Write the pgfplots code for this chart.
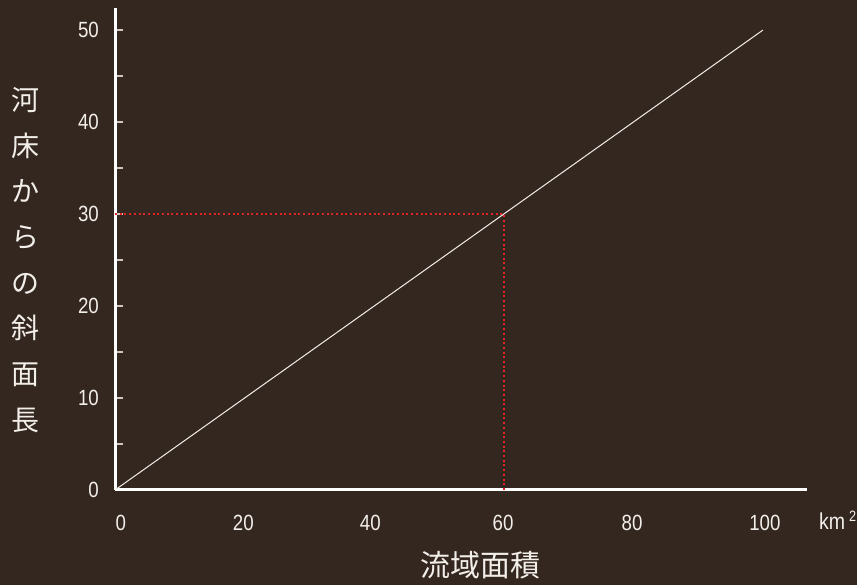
\documentclass[border=0pt]{standalone}
\usepackage{pgfplots}
\pgfplotsset{compat=1.18}
\usepackage{fontspec}
\setmainfont{Liberation Sans}
\newfontfamily\numfont[FakeStretch=0.85]{Liberation Sans}
\newfontfamily\cjk{Noto Sans CJK JP}
\definecolor{bg}{RGB}{52,39,31}
\definecolor{redline}{RGB}{228,36,36}
\definecolor{tickc}{RGB}{205,200,195}
\definecolor{txt}{RGB}{242,238,234}
\begin{document}
\begin{tikzpicture}[x=1pt,y=1pt]
\fill[bg] (0,0) rectangle (857,585);
\useasboundingbox (0,0) rectangle (857,585);
\begin{axis}[
  at={(115pt,95pt)}, anchor=south west,
  scale only axis, width=692pt, height=482pt,
  xmin=0, xmax=106.8, ymin=0, ymax=52.4,
  axis lines*=left,
  axis line style={white, line width=3pt},
  tick align=inside,
  /pgf/number format/assume math mode=true,
  xtick={0.9,19.8,39.4,59.9,79.8,100.3},
  xticklabels={0,20,40,60,80,100},
  ytick={0,10,20,30,40,50},
  yticklabels={0,10,20,30,40,50},
  minor ytick={5,15,25,35,45},
  major tick length=8pt, minor tick length=8pt,
  x tick style={draw=none},
  y tick style={tickc, line width=1.5pt},
  minor y tick style={tickc, line width=1.5pt},
  extra x ticks={10.4,19.5,29.9,39,50.8,59.8,70.3,79.4,91.2,100},
  extra x tick labels={},
  extra x tick style={x tick style={tickc, line width=1.5pt}, major tick length=8pt},
  ticklabel style={text=txt, font=\numfont\fontsize{22}{22}\selectfont, inner sep=0pt},
  xticklabel style={anchor=north, yshift=-25pt},
  yticklabel style={anchor=east, xshift=-16pt},
  clip=false,
]
\addplot[redline, line width=2pt, dash pattern=on 2pt off 2.7pt] coordinates {(0,30) (60,30) (60,0)};
\addplot[txt, line width=1pt] coordinates {(0,0) (100,50)};
\end{axis}
\node[anchor=base west, inner sep=0pt, text=txt] at (819,55) {\numfont\fontsize{23}{23}\selectfont km\,\raisebox{8pt}{\fontsize{15}{15}\selectfont 2}};
\node[align=center, inner sep=0pt, text=txt, font=\cjk\fontsize{28}{45.7}\selectfont] at (25,325) {河\\床\\か\\ら\\の\\斜\\面\\長};
\node[inner sep=0pt, text=txt, font=\cjk\fontsize{30}{30}\selectfont] at (480,20) {流域面積};
\end{tikzpicture}
\end{document}
